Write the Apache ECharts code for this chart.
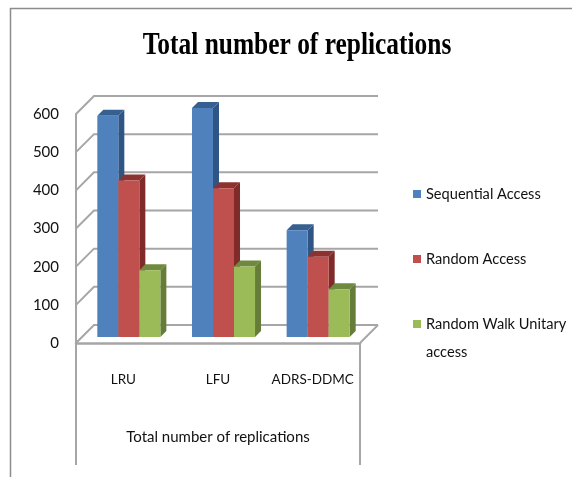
<!DOCTYPE html>
<html><head><meta charset="utf-8">
<style>html,body{margin:0;padding:0;background:#fff}#c{width:572px;height:477px}</style>
<script src="https://cdn.jsdelivr.net/npm/echarts@6/dist/echarts.min.js"></script>
</head><body><div id="c"></div>
<script>
const chartTitle = 'Total number of replications';
const categories = ['LRU', 'LFU', 'ADRS-DDMC'];
const seriesNames = ['Sequential Access', 'Random Access', 'Random Walk Unitary access'];
const sequential = [580, 600, 280];
const random = [410, 390, 210];
const randomWalk = [175, 185, 125];
const yTicks = [0, 100, 200, 300, 400, 500, 600];

const palette = [
  {front:'#4F81BD', side:'#2F5585', top:'#35608F'},
  {front:'#C0504D', side:'#7F2B29', top:'#8C3331'},
  {front:'#9BBB59', side:'#667D3A', top:'#6F8A3E'}
];
const font = 'Lato,"Noto Sans",sans-serif';
const depth = 6, wallDepthX = 18, wallDepthY = 18, barFrac = 0.222;
const gray = '#A6A6A6';

function barSeries(name, values, idx){
  return {
    type:'custom', name, coordinateSystem:'cartesian2d', z:5,
    itemStyle:{color:palette[idx].front},
    encode:{x:0,y:1},
    data:categories.map((c,i)=>[c,values[i]]),
    renderItem(params, api){
      const w = api.size([1,0])[0]*barFrac;
      const top = api.coord([api.value(0), api.value(1)]);
      const base = api.coord([api.value(0), 0]);
      const x0 = top[0] + depth - 0.5 + (idx-1.5)*w;
      const x1 = x0 + w;
      const yT = top[1]-depth, yB = base[1]-depth;
      const c = palette[idx];
      const d = depth;
      return {type:'group', children:[
        {type:'polygon', shape:{points:[[x1,yT],[x1+d,yT-d],[x1+d,yB-d],[x1,yB]]}, style:{fill:c.side}},
        {type:'polygon', shape:{points:[[x0,yT],[x0+d,yT-d],[x1+d,yT-d],[x1,yT]]}, style:{fill:c.top}},
        {type:'rect', shape:{x:x0,y:yT,width:w,height:yB-yT}, style:{fill:c.front}}
      ]};
    }
  };
}

const wallSeries = {
  type:'custom', name:'walls', coordinateSystem:'cartesian2d', z:1, silent:true,
  encode:{x:0,y:1},
  data:yTicks.map(v=>[categories[0],v]),
  renderItem(params, api){
    const w = api.size([1,0])[0]*categories.length;
    const p = api.coord([0, api.value(1)]);
    const left = p[0]-w/(categories.length*2);
    const y = p[1];
    const st = {stroke:gray, lineWidth:2, fill:'none'};
    const pts = [[left,y],[left+wallDepthX,y-wallDepthY],[left+w+wallDepthX,y-wallDepthY]];
    const kids = [{type:'polyline', shape:{points:pts}, style:st}];
    if (api.value(1)===0) {
      kids.push({type:'line', shape:{x1:left+w,y1:y,x2:left+w+wallDepthX,y2:y-wallDepthY}, style:st});
      kids.push({type:'line', shape:{x1:left,y1:y,x2:left,y2:y+122}, style:st});
      kids.push({type:'line', shape:{x1:left+w,y1:y,x2:left+w,y2:y+122}, style:st});
    }
    return {type:'group', children:kids};
  }
};

const legendTops = [175, 240, 277];
const chart = echarts.init(document.getElementById('c'));
chart.setOption({
  animation:false,
  backgroundColor:'#fff',
  grid:{left:76, right:212, top:114, height:229},
  xAxis:{
    type:'category', data:categories,
    axisLine:{show:true,lineStyle:{color:gray,width:2.5}}, axisTick:{show:false},
    axisLabel:{color:'#111',fontFamily:font,fontSize:13.5,margin:30,interval:0},
    name:chartTitle, nameLocation:'middle', nameGap:87,
    nameTextStyle:{color:'#111',fontFamily:font,fontSize:15}
  },
  yAxis:{
    type:'value', min:0, max:600, interval:100,
    axisLine:{show:true,lineStyle:{color:gray,width:2}}, axisTick:{show:false},
    splitLine:{show:false},
    axisLabel:{color:'#111',fontFamily:font,fontSize:15,margin:17}
  },
  legend:seriesNames.map((n,i)=>({
    data:[n], orient:'vertical', left:408, top:legendTops[i], icon:'rect',
    itemWidth:8, itemHeight:8, itemGap:0, selectedMode:false,
    textStyle:{color:'#111',fontFamily:font,fontSize:14.6,lineHeight:28},
    formatter:nm=>nm===seriesNames[2]?'\nRandom Walk Unitary\naccess':nm
  })),
  graphic:[
    {type:'text', x:297, y:46, z:10,
     style:{text:chartTitle, fill:'#000', font:'bold 31px "Liberation Serif",serif', textAlign:'center', textVerticalAlign:'middle'},
     scaleX:0.82},
    {type:'line', shape:{x1:10.5,y1:8,x2:10.5,y2:477}, style:{stroke:'#8c8c8c',lineWidth:1.5}},
    {type:'line', shape:{x1:10,y1:8.5,x2:572,y2:8.5}, style:{stroke:'#8c8c8c',lineWidth:1.5}}
  ],
  series:[wallSeries, barSeries(seriesNames[0],sequential,0), barSeries(seriesNames[1],random,1), barSeries(seriesNames[2],randomWalk,2)]
});
</script></body></html>
